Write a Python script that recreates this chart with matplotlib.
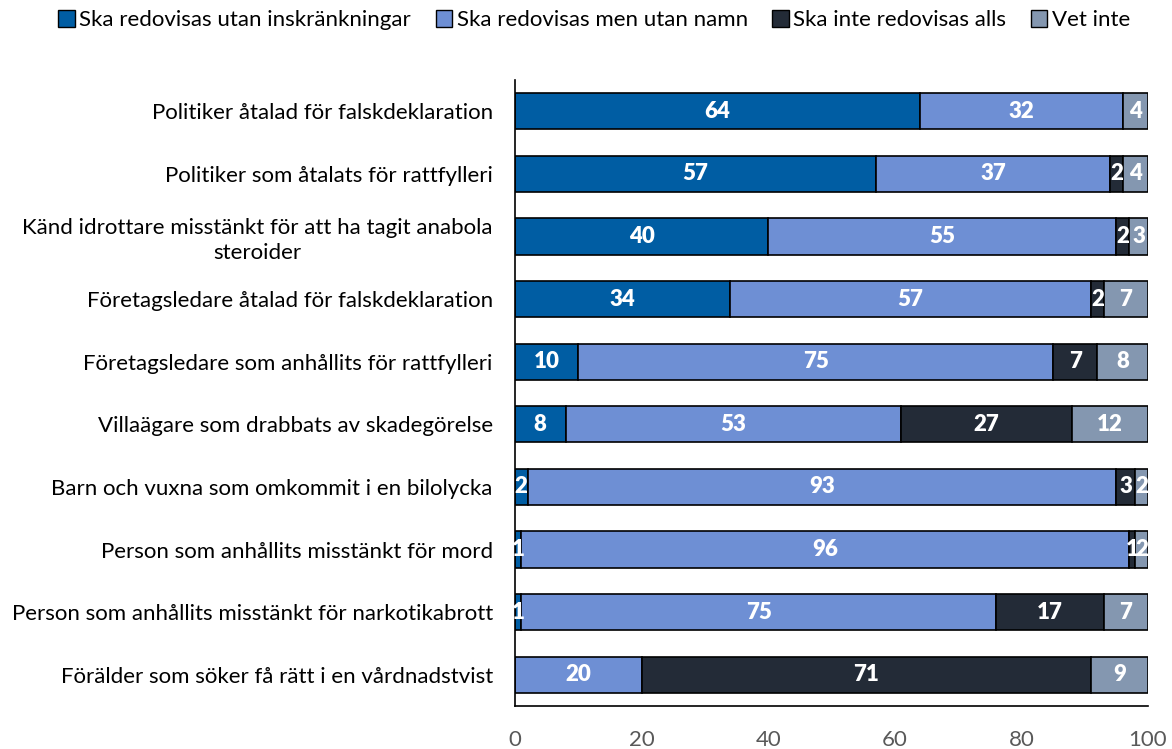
import numpy as np
import matplotlib.pyplot as plt
from matplotlib.patches import Patch

plt.rcParams['font.family'] = ['Lato', 'DejaVu Sans']

categories = [
    'Politiker åtalad för falskdeklaration',
    'Politiker som åtalats för rattfylleri',
    'Känd idrottare misstänkt för att ha tagit anabola\nsteroider',
    'Företagsledare åtalad för falskdeklaration',
    'Företagsledare som anhållits för rattfylleri',
    'Villaägare som drabbats av skadegörelse',
    'Barn och vuxna som omkommit i en bilolycka',
    'Person som anhållits misstänkt för mord',
    'Person som anhållits misstänkt för narkotikabrott',
    'Förälder som söker få rätt i en vårdnadstvist',
]
series_names = ['Ska redovisas utan inskränkningar', 'Ska redovisas men utan namn',
                'Ska inte redovisas alls', 'Vet inte']
utan_inskr = [64, 57, 40, 34, 10, 8, 2, 1, 1, 0]
utan_namn = [32, 37, 55, 57, 75, 53, 93, 96, 75, 20]
inte_alls = [0, 2, 2, 2, 7, 27, 3, 1, 17, 71]
vet_inte = [4, 4, 3, 7, 8, 12, 2, 2, 7, 9]
colors = ['#005DA3', '#6E8FD4', '#232B37', '#8497B0']

fig = plt.figure(figsize=(11.72, 7.49), dpi=100)
ax = fig.add_axes([0.4394, 0.0574, 0.5401, 0.8358])

y = np.arange(len(categories))
left = np.zeros(len(categories))
for vals, col in zip([utan_inskr, utan_namn, inte_alls, vet_inte], colors):
    vals = np.array(vals, dtype=float)
    bars = ax.barh(y, vals, left=left, height=0.58, color=col,
                   edgecolor='black', linewidth=1.2, zorder=2)
    for b, v in zip(bars, vals):
        if v > 0:
            ax.text(b.get_x() + b.get_width() / 2, b.get_y() + b.get_height() / 2,
                    f'{int(v)}', ha='center', va='center', color='white',
                    fontsize=16, fontweight='heavy', zorder=3)
    left += vals

ax.set_ylim(len(categories) - 0.5, -0.5)
ax.set_xlim(0, 100)
ax.set_xticks([0, 20, 40, 60, 80, 100])
ax.set_yticks(y)
ax.set_yticklabels(categories, fontsize=16, multialignment='center', linespacing=1.3)
ax.tick_params(axis='y', length=0, pad=16)
ax.tick_params(axis='x', length=0, pad=17, labelsize=16, labelcolor='#595959')
for s in ['top', 'right']:
    ax.spines[s].set_visible(False)
ax.spines['left'].set_linewidth(1.2)
ax.spines['bottom'].set_linewidth(1.2)

handles = [Patch(facecolor=c, edgecolor='black', linewidth=1) for c in colors]
fig.legend(handles, series_names, loc='upper center', bbox_to_anchor=(0.507, 1.013),
           ncol=4, frameon=False, fontsize=16, handlelength=0.75, handleheight=0.75,
           handletextpad=0.2, columnspacing=1.1)

fig.savefig('out.png', dpi=100)
